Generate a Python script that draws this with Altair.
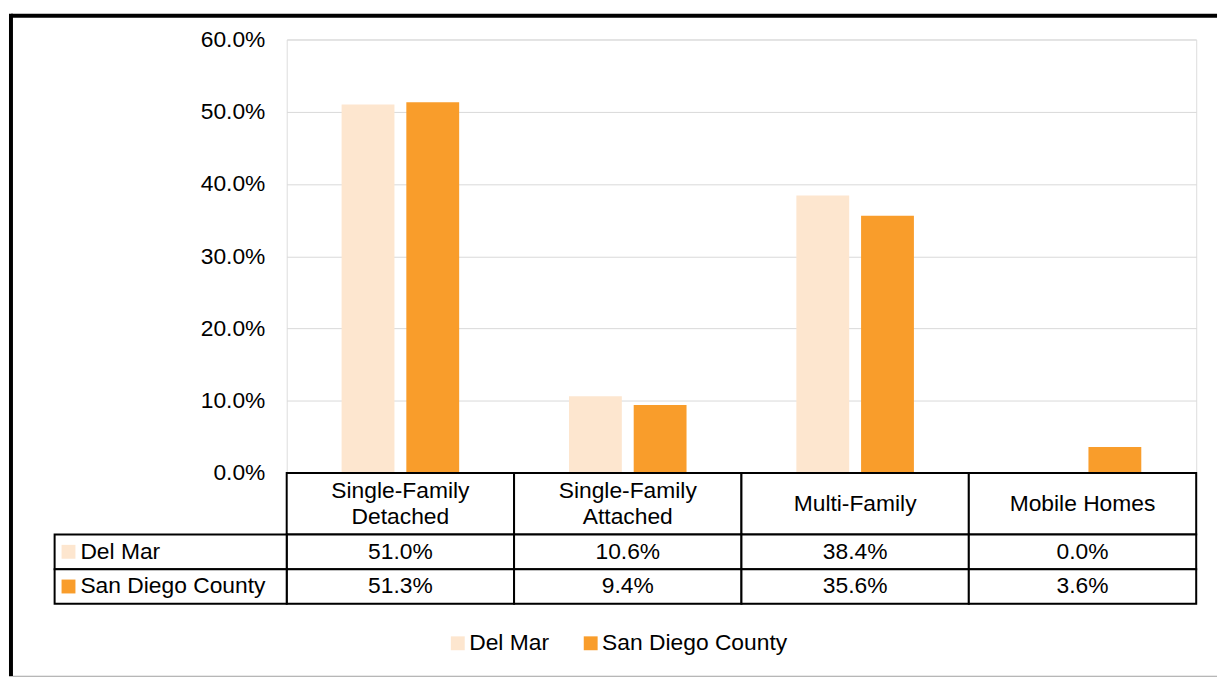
import altair as alt
import pandas as pd

categories = ["Single-Family Detached", "Single-Family Attached", "Multi-Family", "Mobile Homes"]
series = ["Del Mar", "San Diego County"]
del_mar = [0.510, 0.106, 0.384, 0.000]
san_diego = [0.513, 0.094, 0.356, 0.036]
y_ticks = [0.0, 0.1, 0.2, 0.3, 0.4, 0.5, 0.6]
colors = ["#FDE6CF", "#F99D2B"]

rows = []
for s, vals in zip(series, [del_mar, san_diego]):
    for c, v in zip(categories, vals):
        rows.append({"Category": c, "Series": s, "Value": v})
df = pd.DataFrame(rows)
ser_df = pd.DataFrame({"Series": series})
cat_df = pd.DataFrame({"Category": categories})
one = pd.DataFrame({"k": [0]})

FONT = "Liberation Sans"
FS = 23
W = 917
LABEL_COL = 234

color = alt.Color(
    "Series:N",
    scale=alt.Scale(domain=series, range=colors),
    legend=alt.Legend(
        title=None, orient="none", direction="horizontal", legendX=161, legendY=597,
        symbolType="square", symbolSize=196, symbolStrokeWidth=0,
        labelFontSize=FS, labelFont=FONT, labelColor="black", labelLimit=400,
        labelOffset=0, columnPadding=30, padding=0,
    ),
)

# ---------- top: bars ----------
bars = alt.Chart(df).mark_bar().encode(
    x=alt.X("Category:N", sort=categories, title=None,
            scale=alt.Scale(domain=categories, paddingInner=0.483, paddingOuter=0.2415),
            axis=None),
    xOffset=alt.XOffset("Series:N", sort=series,
                        scale=alt.Scale(domain=series, paddingInner=0.1836, paddingOuter=0)),
    y=alt.Y("Value:Q", title=None,
            scale=alt.Scale(domain=[0, 0.6], nice=False),
            axis=alt.Axis(values=y_ticks, format=".1%", grid=True, gridColor="#d9d9d9",
                          gridWidth=1, domain=False, ticks=False, labelPadding=22,
                          labelFont=FONT, labelFontSize=FS, labelColor="black")),
    color=color,
)

frame_left = alt.Chart(one).mark_rule(color="black", strokeWidth=4).encode(
    x=alt.value(-278), y=alt.value(-26), y2=alt.value(642))
frame_top = alt.Chart(one).mark_rule(color="black", strokeWidth=4).encode(
    x=alt.value(-278), x2=alt.value(938), y=alt.value(-24))
frame_bottom = alt.Chart(one).mark_rule(color="#a0a0a0", strokeWidth=1).encode(
    x=alt.value(-276), x2=alt.value(938), y=alt.value(642))

top = alt.layer(bars, frame_left, frame_top, frame_bottom).properties(width=W, height=437)

# ---------- header row ----------
x_tab = alt.X("Category:N", sort=categories, title=None,
              scale=alt.Scale(domain=categories, paddingInner=0, paddingOuter=0), axis=None)

hdr_rect = alt.Chart(cat_df).mark_rect(fill="white", stroke="black", strokeWidth=2).encode(x=x_tab)
hdr_two = alt.Chart(cat_df).transform_filter(
    "indexof(datum.Category, 'Single-Family ') == 0"
).transform_calculate(
    lbl="replace(datum.Category, 'Single-Family ', 'Single-Family\\n')"
).mark_text(lineBreak="\n", baseline="middle", lineHeight=26, fontSize=FS, font=FONT,
            color="black", dy=-13).encode(x=x_tab, text="lbl:N")
hdr_one = alt.Chart(cat_df).transform_filter(
    "indexof(datum.Category, 'Single-Family ') != 0"
).mark_text(baseline="middle", fontSize=FS, font=FONT, color="black").encode(
    x=x_tab, text="Category:N")
header = alt.layer(hdr_rect, hdr_two, hdr_one).properties(width=W, height=62)

# ---------- data rows ----------
y_tab = alt.Y("Series:N", sort=series, title=None,
              scale=alt.Scale(domain=series, paddingInner=0, paddingOuter=0), axis=None)

cell_rect = alt.Chart(df).mark_rect(fill="white", stroke="black", strokeWidth=2).encode(
    x=x_tab, y=y_tab)
cell_text = alt.Chart(df).mark_text(fontSize=FS, font=FONT, color="black", baseline="middle").encode(
    x=x_tab, y=y_tab, text=alt.Text("Value:Q", format=".1%"))
lab_rect = alt.Chart(ser_df).mark_rect(fill="white", stroke="black", strokeWidth=2).encode(
    x=alt.value(-LABEL_COL), x2=alt.value(0), y=y_tab)
lab_sw = alt.Chart(ser_df).mark_square(size=196, opacity=1, filled=True, strokeWidth=0).encode(
    x=alt.value(-LABEL_COL + 14), y=y_tab, color=color)
lab_text = alt.Chart(ser_df).mark_text(align="left", baseline="middle", fontSize=FS, font=FONT,
                                       color="black").encode(
    x=alt.value(-LABEL_COL + 26), y=y_tab, text="Series:N")
table = alt.layer(cell_rect, cell_text, lab_rect, lab_sw, lab_text).properties(width=W, height=70)

chart = alt.vconcat(top, header, table, spacing=0, bounds="flush").properties(
    padding=0
).configure_view(stroke="transparent").configure(background="white")

chart.save("out.html", embed_options={"renderer": "svg", "actions": False})
